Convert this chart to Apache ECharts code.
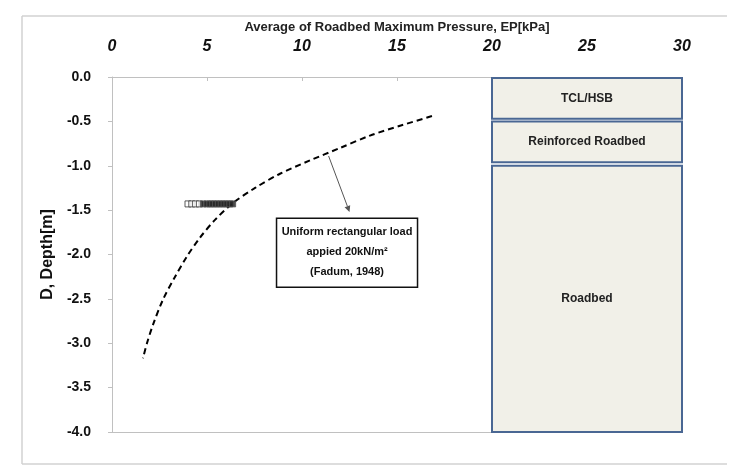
<!DOCTYPE html>
<html>
<head>
<meta charset="utf-8">
<script src="https://cdn.jsdelivr.net/npm/echarts@6/dist/echarts.min.js"></script>
<style>html,body{margin:0;padding:0;background:#fff}#c{width:743px;height:470px}</style>
</head>
<body>
<div id="c"></div>
<script>
// ---- data ----
var xTicks = [0, 5, 10, 15, 20, 25, 30];
var yTicks = [0, -0.5, -1, -1.5, -2, -2.5, -3, -3.5, -4];
// Fadum (1948) dashed curve: [pressure kPa, depth m]
var fadumX = [16.84, 15.16, 13.58, 12.0, 10.42, 8.84, 7.53, 6.37, 5.42, 4.63, 3.95, 3.32, 2.68, 2.16, 1.84, 1.63];
var fadumY = [-0.44, -0.55, -0.66, -0.80, -0.94, -1.09, -1.25, -1.42, -1.61, -1.81, -2.02, -2.25, -2.51, -2.79, -3.00, -3.17];
// measured points at sensor depth
var measHollowX = [4.0, 4.2, 4.4, 4.6];
var measFilledX = [4.8, 5.0, 5.15, 5.3, 5.45, 5.6, 5.75, 5.9, 6.05, 6.2, 6.35];
var measDepth = -1.43;
// layers
var layerNames = ['TCL/HSB', 'Reinforced Roadbed', 'Roadbed'];
var layerTop = [-0.01, -0.5, -1.0];
var layerBottom = [-0.47, -0.96, -4.0];
var layerX0 = [20, 20, 20];
var layerX1 = [30, 30, 30];
// annotation
var noteLines = ['Uniform rectangular load', 'appied 20kN/m\u00b2', '(Fadum, 1948)'];
var noteCenter = [12.37, -1.98];
var arrowFrom = [11.4, -0.89];
var arrowTo = [12.5, -1.52];

var FONT = '"Liberation Sans", Arial, sans-serif';
var chart = echarts.init(document.getElementById('c'));

var layerData = layerNames.map(function (n, i) {
  return [layerX0[i], layerTop[i], layerX1[i], layerBottom[i], n];
});

var option = {
  animation: false,
  grid: { left: 112, right: 61, top: 77, bottom: 38 },
  xAxis: [{
    type: 'value', position: 'top', min: 0, max: 30, interval: 5,
    name: 'Average of Roadbed Maximum Pressure, EP[kPa]',
    nameLocation: 'middle', nameGap: 43,
    nameTextStyle: { fontFamily: FONT, fontSize: 13, fontWeight: 'bold', color: '#222' },
    axisLine: { show: true, lineStyle: { color: '#c0c0c0', width: 1 } },
    axisTick: { show: true, inside: true, length: 4, lineStyle: { color: '#c0c0c0' } },
    axisLabel: { margin: 22, fontFamily: FONT, fontSize: 16, fontWeight: 'bold', fontStyle: 'italic', color: '#111' },
    splitLine: { show: false }
  }, {
    type: 'value', position: 'bottom', min: 0, max: 30,
    axisLine: { show: true, lineStyle: { color: '#c0c0c0', width: 1 } },
    axisTick: { show: false }, axisLabel: { show: false }, splitLine: { show: false }
  }],
  yAxis: {
    type: 'value', min: -4, max: 0, interval: 0.5,
    name: 'D, Depth[m]', nameLocation: 'middle', nameGap: 56,
    nameTextStyle: { fontFamily: FONT, fontSize: 16, fontWeight: 'bold', color: '#111' },
    axisLine: { show: true, lineStyle: { color: '#c0c0c0', width: 1 } },
    axisTick: { show: true, length: 4, lineStyle: { color: '#c0c0c0' } },
    axisLabel: { margin: 21, fontFamily: FONT, fontSize: 14, fontWeight: 'bold', color: '#111',
      formatter: function (v) { return v.toFixed(1); } },
    splitLine: { show: false }
  },
  series: [
    {
      type: 'custom', xAxisIndex: 0, z: 1,
      data: layerData,
      renderItem: function (params, api) {
        var p0 = api.coord([api.value(0), api.value(1)]);
        var p1 = api.coord([api.value(2), api.value(3)]);
        var name = layerNames[params.dataIndex];
        return {
          type: 'group',
          children: [{
            type: 'rect',
            shape: { x: p0[0], y: p0[1], width: p1[0] - p0[0], height: p1[1] - p0[1] },
            style: { fill: '#f1f0e8', stroke: '#4a6793', lineWidth: 2 }
          }, {
            type: 'text',
            style: { text: name, x: (p0[0] + p1[0]) / 2, y: (p0[1] + p1[1]) / 2,
              align: 'center', verticalAlign: 'middle',
              font: 'bold 12px ' + FONT, fill: '#222' }
          }]
        };
      }
    },
    {
      type: 'line', xAxisIndex: 0, showSymbol: false, symbol: 'none', smooth: 0.3, z: 3,
      data: fadumX.map(function (x, i) { return [x, fadumY[i]]; }),
      lineStyle: { color: '#000', width: 2, type: [6, 4] }
    },
    {
      type: 'scatter', xAxisIndex: 0, symbol: 'rect', symbolSize: 6, z: 4,
      data: measHollowX.map(function (x) { return [x, measDepth]; }),
      itemStyle: { color: '#fff', borderColor: '#333', borderWidth: 1 }
    },
    {
      type: 'scatter', xAxisIndex: 0, symbol: 'rect', symbolSize: 6, z: 4,
      data: measFilledX.map(function (x) { return [x, measDepth]; }),
      itemStyle: { color: '#222', borderColor: '#555', borderWidth: 1 }
    }
  ]
};
chart.setOption(option);

function drawAnnotations() {
  var c = chart.convertToPixel({ xAxisIndex: 0, yAxisIndex: 0 }, noteCenter);
  var a0 = chart.convertToPixel({ xAxisIndex: 0, yAxisIndex: 0 }, arrowFrom);
  var a1 = chart.convertToPixel({ xAxisIndex: 0, yAxisIndex: 0 }, arrowTo);
  var w = 141, h = 69;
  var ang = Math.atan2(a1[1] - a0[1], a1[0] - a0[0]);
  var hl = 6, hw = 3;
  var bx = a1[0] - hl * Math.cos(ang), by = a1[1] - hl * Math.sin(ang);
  var head = [
    [a1[0], a1[1]],
    [bx + hw * Math.sin(ang), by - hw * Math.cos(ang)],
    [bx - hw * Math.sin(ang), by + hw * Math.cos(ang)]
  ];
  var texts = noteLines.map(function (t, i) {
    return { type: 'text', z: 20,
      style: { text: t, x: c[0], y: c[1] - 21 + i * 20, align: 'center', verticalAlign: 'middle',
        font: 'bold 11px ' + FONT, fill: '#111' } };
  });
  chart.setOption({
    graphic: [
      { type: 'line', z: -1, shape: { x1: 22, y1: 16, x2: 727, y2: 16 }, style: { stroke: '#d2d2d2', lineWidth: 1.5 } },
      { type: 'line', z: -1, shape: { x1: 22, y1: 16, x2: 22, y2: 464 }, style: { stroke: '#d2d2d2', lineWidth: 1.5 } },
      { type: 'line', z: -1, shape: { x1: 22, y1: 464, x2: 727, y2: 464 }, style: { stroke: '#d2d2d2', lineWidth: 1.5 } },
      { type: 'line', z: 10, shape: { x1: a0[0], y1: a0[1], x2: bx, y2: by }, style: { stroke: '#555', lineWidth: 1 } },
      { type: 'polygon', z: 10, shape: { points: head }, style: { fill: '#555' } },
      { type: 'rect', z: 15, shape: { x: c[0] - w / 2, y: c[1] - h / 2, width: w, height: h },
        style: { fill: '#fff', stroke: '#111', lineWidth: 1.5 } }
    ].concat(texts)
  });
}
drawAnnotations();
</script>
</body>
</html>
